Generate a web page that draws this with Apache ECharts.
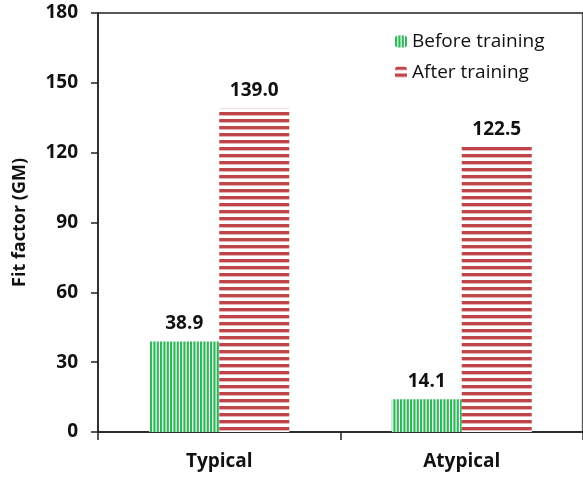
<!DOCTYPE html>
<html>
<head>
<meta charset="utf-8">
<script src="https://cdn.jsdelivr.net/npm/echarts@6/dist/echarts.min.js"></script>
<style>
  html, body { margin: 0; padding: 0; background: #fff; }
  #chart { width: 583px; height: 477px; }
</style>
</head>
<body>
<div id="chart"></div>
<script>
// Fit factor by group, before and after training
const categories = ['Typical', 'Atypical'];
const beforeTraining = [38.9, 14.1];
const afterTraining = [139.0, 122.5];
const seriesNames = ['Before training', 'After training'];
const yTicks = { min: 0, max: 180, step: 30 };

const FONT = '"Open Sans", Lato, sans-serif';

// Vertical green stripes
function greenStripes() {
  const c = document.createElement('canvas');
  c.width = 10; c.height = 4;
  const g = c.getContext('2d');
  g.fillStyle = '#ffffff';
  g.fillRect(0, 0, 10, 4);
  g.fillStyle = '#2fb85a';
  [0, 3.33, 6.67].forEach(x => g.fillRect(x, 0, 2.2, 4));
  return c;
}

// Horizontal red stripes
function redStripes() {
  const c = document.createElement('canvas');
  c.width = 4; c.height = 7;
  const g = c.getContext('2d');
  g.fillStyle = '#ffffff';
  g.fillRect(0, 0, 4, 7);
  g.fillStyle = '#c0454a';
  g.fillRect(0, 0, 4, 3.4);
  return c;
}

const chart = echarts.init(document.getElementById('chart'));

const labelStyle = {
  show: true,
  position: 'top',
  distance: 8,
  fontFamily: FONT,
  fontWeight: 'bold',
  fontSize: 19,
  color: '#111',
  formatter: p => p.value.toFixed(1)
};

chart.setOption({
  animation: false,
  grid: {
    left: 98, right: -2, top: 13, bottom: 45,
    show: true, borderColor: '#222', borderWidth: 1.5,
    containLabel: false
  },
  // faint outer edge on the right of the frame
  graphic: [{
    type: 'line',
    shape: { x1: 581.5, y1: 14, x2: 581.5, y2: 431 },
    style: { stroke: '#e2e2e2', lineWidth: 1 },
    silent: true
  }],
  legend: {
    orient: 'vertical',
    left: 390, top: 27,
    itemGap: 12,
    itemWidth: 12, itemHeight: 12,
    textStyle: { fontFamily: FONT, fontSize: 19, color: '#111' },
    data: seriesNames
  },
  xAxis: {
    type: 'category',
    data: categories,
    axisLine: { show: true, lineStyle: { color: '#222', width: 1.5 } },
    axisTick: { show: true, length: 8, lineStyle: { color: '#222', width: 1.5 } },
    axisLabel: { margin: 20, fontFamily: FONT, fontWeight: 'bold', fontSize: 19, color: '#111' }
  },
  yAxis: {
    type: 'value',
    min: yTicks.min, max: yTicks.max, interval: yTicks.step,
    name: 'Fit factor (GM)',
    nameLocation: 'middle',
    nameGap: 69,
    nameTextStyle: { fontFamily: FONT, fontWeight: 'bold', fontSize: 18, color: '#111' },
    axisLine: { show: true, lineStyle: { color: '#222', width: 1.5 } },
    axisTick: { show: true, length: 7, lineStyle: { color: '#222', width: 1.5 } },
    axisLabel: { margin: 20, fontFamily: FONT, fontWeight: 'bold', fontSize: 19, color: '#111' },
    splitLine: { show: false }
  },
  series: [
    {
      name: seriesNames[0],
      type: 'bar',
      data: beforeTraining,
      barWidth: 70,
      barGap: '0%',
      itemStyle: { color: { image: greenStripes(), repeat: 'repeat' } },
      label: labelStyle
    },
    {
      name: seriesNames[1],
      type: 'bar',
      data: afterTraining,
      barWidth: 70,
      barGap: '0%',
      itemStyle: { color: { image: redStripes(), repeat: 'repeat' } },
      label: labelStyle
    }
  ]
});
</script>
</body>
</html>
